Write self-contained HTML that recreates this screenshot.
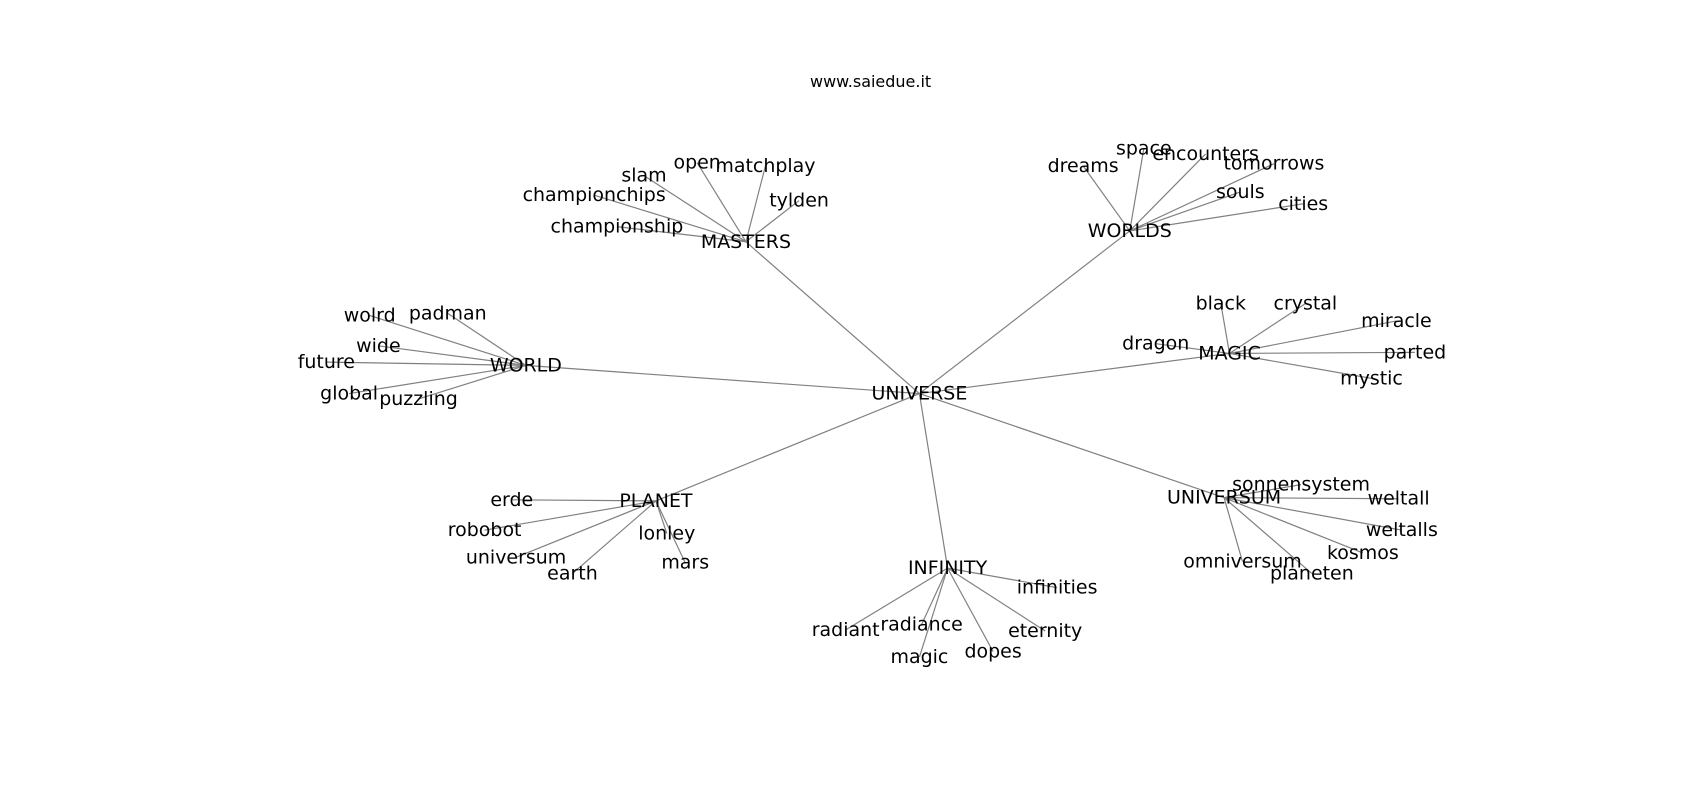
<!DOCTYPE html>
<html><head><meta charset="utf-8"><style>
html,body{margin:0;padding:0;background:#fff}
svg{display:block}
text{font-family:"DejaVu Sans","Liberation Sans",sans-serif;font-size:17.5px;fill:#000;text-anchor:middle;dominant-baseline:central}
line{stroke:#808080;stroke-width:1.1}
</style></head><body>
<svg width="1700" height="800" viewBox="0 0 1700 800" xmlns="http://www.w3.org/2000/svg">
<g transform="scale(1.0842)">
<g id="edges">
<line x1="848" y1="363" x2="688" y2="223"/>
<line x1="848" y1="363" x2="1042" y2="213"/>
<line x1="848" y1="363" x2="485" y2="337"/>
<line x1="848" y1="363" x2="1134" y2="326"/>
<line x1="848" y1="363" x2="605" y2="462"/>
<line x1="848" y1="363" x2="874" y2="524"/>
<line x1="848" y1="363" x2="1129" y2="459"/>

<line x1="688" y1="223" x2="569" y2="209"/>
<line x1="688" y1="223" x2="548" y2="180"/>
<line x1="688" y1="223" x2="594" y2="162"/>
<line x1="688" y1="223" x2="643" y2="150"/>
<line x1="688" y1="223" x2="706" y2="153"/>
<line x1="688" y1="223" x2="737" y2="185"/>

<line x1="1042" y1="213" x2="999" y2="153"/>
<line x1="1042" y1="213" x2="1055" y2="137"/>
<line x1="1042" y1="213" x2="1112" y2="142"/>
<line x1="1042" y1="213" x2="1175" y2="151"/>
<line x1="1042" y1="213" x2="1144" y2="177"/>
<line x1="1042" y1="213" x2="1202" y2="188"/>

<line x1="485" y1="337" x2="341" y2="291"/>
<line x1="485" y1="337" x2="413" y2="289"/>
<line x1="485" y1="337" x2="349" y2="319"/>
<line x1="485" y1="337" x2="301" y2="334"/>
<line x1="485" y1="337" x2="322" y2="363"/>
<line x1="485" y1="337" x2="386" y2="368"/>

<line x1="1134" y1="326" x2="1126" y2="280"/>
<line x1="1134" y1="326" x2="1204" y2="280"/>
<line x1="1134" y1="326" x2="1288" y2="296"/>
<line x1="1134" y1="326" x2="1066" y2="317"/>
<line x1="1134" y1="326" x2="1305" y2="325"/>
<line x1="1134" y1="326" x2="1265" y2="349"/>

<line x1="605" y1="462" x2="472" y2="461"/>
<line x1="605" y1="462" x2="447" y2="489"/>
<line x1="605" y1="462" x2="476" y2="514"/>
<line x1="605" y1="462" x2="528" y2="529"/>
<line x1="605" y1="462" x2="615" y2="492"/>
<line x1="605" y1="462" x2="632" y2="519"/>

<line x1="874" y1="524" x2="975" y2="542"/>
<line x1="874" y1="524" x2="780" y2="581"/>
<line x1="874" y1="524" x2="850" y2="576"/>
<line x1="874" y1="524" x2="964" y2="582"/>
<line x1="874" y1="524" x2="848" y2="606"/>
<line x1="874" y1="524" x2="916" y2="601"/>

<line x1="1129" y1="459" x2="1200" y2="447"/>
<line x1="1129" y1="459" x2="1290" y2="460"/>
<line x1="1129" y1="459" x2="1293" y2="489"/>
<line x1="1129" y1="459" x2="1257" y2="510"/>
<line x1="1129" y1="459" x2="1146" y2="518"/>
<line x1="1129" y1="459" x2="1210" y2="529"/>
</g>
<text x="803" y="75" style="font-size:14.75px">www.saiedue.it</text>

<text x="848" y="363">UNIVERSE</text>
<text x="688" y="223">MASTERS</text>
<text x="1042" y="213">WORLDS</text>
<text x="485" y="337">WORLD</text>
<text x="1134" y="326">MAGIC</text>
<text x="605" y="462">PLANET</text>
<text x="874" y="524">INFINITY</text>
<text x="1129" y="459">UNIVERSUM</text>

<text x="569" y="209">championship</text>
<text x="548" y="180">championchips</text>
<text x="594" y="162">slam</text>
<text x="643" y="150">open</text>
<text x="706" y="153">matchplay</text>
<text x="737" y="185">tylden</text>

<text x="999" y="153">dreams</text>
<text x="1055" y="137">space</text>
<text x="1112" y="142">encounters</text>
<text x="1175" y="151">tomorrows</text>
<text x="1144" y="177">souls</text>
<text x="1202" y="188">cities</text>

<text x="341" y="291">wolrd</text>
<text x="413" y="289">padman</text>
<text x="349" y="319">wide</text>
<text x="301" y="334">future</text>
<text x="322" y="363">global</text>
<text x="386" y="368">puzzling</text>

<text x="1126" y="280">black</text>
<text x="1204" y="280">crystal</text>
<text x="1288" y="296">miracle</text>
<text x="1066" y="317">dragon</text>
<text x="1305" y="325">parted</text>
<text x="1265" y="349">mystic</text>

<text x="472" y="461">erde</text>
<text x="447" y="489">robobot</text>
<text x="476" y="514">universum</text>
<text x="528" y="529">earth</text>
<text x="615" y="492">lonley</text>
<text x="632" y="519">mars</text>

<text x="975" y="542">infinities</text>
<text x="780" y="581">radiant</text>
<text x="850" y="576">radiance</text>
<text x="964" y="582">eternity</text>
<text x="848" y="606">magic</text>
<text x="916" y="601">dopes</text>

<text x="1200" y="447">sonnensystem</text>
<text x="1290" y="460">weltall</text>
<text x="1293" y="489">weltalls</text>
<text x="1257" y="510">kosmos</text>
<text x="1146" y="518">omniversum</text>
<text x="1210" y="529">planeten</text>
</g>
</svg>
</body></html>
